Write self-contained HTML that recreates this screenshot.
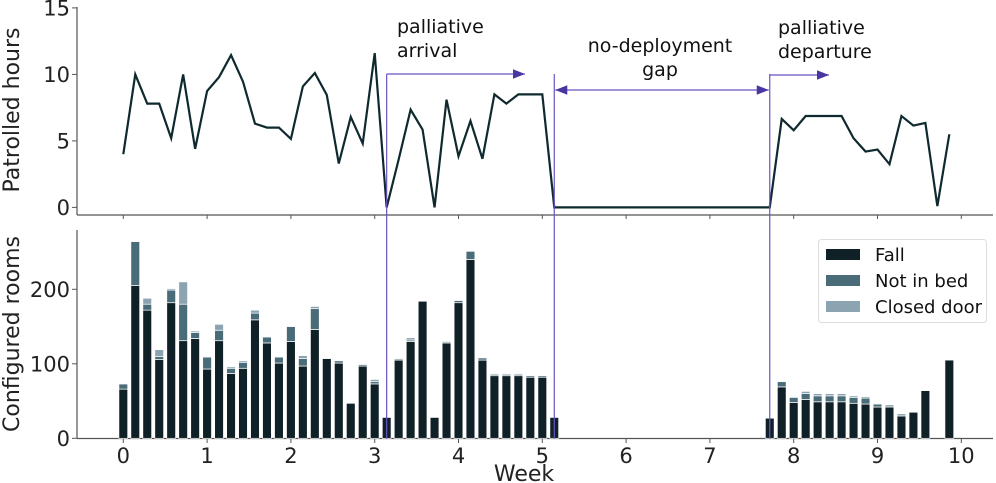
<!DOCTYPE html>
<html><head><meta charset="utf-8"><style>
html,body{margin:0;padding:0;background:#fff}
svg{display:block;font-family:"DejaVu Sans","Liberation Sans",sans-serif}
</style></head><body>
<svg id="chart" width="996" height="483" viewBox="0 0 996 483" xmlns="http://www.w3.org/2000/svg"></svg>
<script>
const hours=[4.0,10.0,7.8,7.8,5.2,10.0,4.4,8.75,9.8,11.45,9.45,6.3,6.0,6.0,5.15,9.1,10.1,8.45,3.3,6.8,4.8,11.6,0,3.6,7.35,5.85,0,8.1,3.85,6.5,3.65,8.5,7.8,8.5,8.5,8.5,0,0,0,0,0,0,0,0,0,0,0,0,0,0,0,0,0,0,0,6.65,5.8,6.87,6.87,6.87,6.87,5.2,4.2,4.35,3.25,6.87,6.15,6.35,0.1,5.5];
const fall=[66,205,172,106,182,131,134,93,131,87,94,159,128,101,130,97,146,107,101,47,97,73,28,105,130,184,28,128,182,240,105,84,84,84,82,82,28,0,0,0,0,0,0,0,0,0,0,0,0,0,0,0,0,0,27,69,48,52,49,49,49,47,46,42,42,30,35,64,0,105];
const notInBed=[7,59,8,4,17,49,8,16,14,7,8,9,8,8,20,10,28,0,3,0,2,3,0,0,2,0,0,0,3,11,3,2,2,2,2,2,0,0,0,0,0,0,0,0,0,0,0,0,0,0,0,0,0,0,0,7,7,8,8,8,8,8,8,4,0,0,0,0,0,0];
const closedDoor=[1,0,8,9,2,30,2,1,8,2,2,4,1,1,1,4,3,0,0,0,0,3,0,2,3,0,0,2,1,0,1,1,1,1,1,1,0,0,0,0,0,0,0,0,0,0,0,0,0,0,0,0,0,0,0,1,1,3,3,3,3,2,2,1,3,3,0,0,0,0];
const weekTicks=[0,1,2,3,4,5,6,7,8,9,10];
const hourTicks=[0,5,10,15];
const roomTicks=[0,100,200];
const events=[22,36,54];

const NS="http://www.w3.org/2000/svg";
const svg=document.getElementById('chart');
function el(t,a,p){const e=document.createElementNS(NS,t);for(const k in a)e.setAttribute(k,a[k]);(p||svg).appendChild(e);return e;}
const xW=w=>123.3+w*83.8;
const xD=d=>xW(d/7);
const yH=v=>207.4-v*13.3;
const yR=v=>438.3-v*0.745;
const AX="#555", PUR="#6a52c4", PURD="#4a36a0";

const defs=el('defs',{});
const m2=el('marker',{id:'ah2',viewBox:'0 0 10 10',refX:'10',refY:'5',markerWidth:'16',markerHeight:'12',orient:'auto-start-reverse',markerUnits:'userSpaceOnUse'},defs);
el('path',{d:'M0,1 L10,5 L0,9 Z',fill:PURD},m2);

let a;
a=el('line',{x1:77,y1:215,x2:993,y2:215,stroke:AX,'stroke-width':1.2});

a=el('line',{x1:77,y1:438.5,x2:993,y2:438.5,stroke:AX,'stroke-width':1.2});

a=el('line',{x1:77,y1:7,x2:77,y2:215,stroke:AX,'stroke-width':1.2});

a=el('line',{x1:77,y1:230,x2:77,y2:438.5,stroke:AX,'stroke-width':1.2});


weekTicks.forEach(w=>{
  const x=xW(w);
  el('line',{x1:x,y1:215,x2:x,y2:219,stroke:AX});
  el('line',{x1:x,y1:438.5,x2:x,y2:443,stroke:AX});
  const t=el('text',{x:x,y:463,'text-anchor':'middle','font-size':21,fill:'#222'});
  t.textContent=w;
  
  
});
hourTicks.forEach(v=>{
  const y=yH(v);
  el('line',{x1:72,y1:y,x2:77,y2:y,stroke:AX});
  const t=el('text',{x:70,y:y+7.5,'text-anchor':'end','font-size':21,fill:'#222'});
  t.textContent=v;
  
  
});
roomTicks.forEach(v=>{
  const y=yR(v);
  el('line',{x1:72,y1:y,x2:77,y2:y,stroke:AX});
  const t=el('text',{x:70,y:y+7.5,'text-anchor':'end','font-size':21,fill:'#222'});
  t.textContent=v;
  
  
});
let t;
t=el('text',{x:524,y:481,'text-anchor':'middle','font-size':22,fill:'#222'});t.textContent='Week';

t=el('text',{transform:'translate(19,110) rotate(-90)','text-anchor':'middle','font-size':22,fill:'#222'});t.textContent='Patrolled hours';

t=el('text',{transform:'translate(19,334) rotate(-90)','text-anchor':'middle','font-size':22,fill:'#222'});t.textContent='Configured rooms';


const bw=8.8;
fall.forEach((f,i)=>{
  const x=xD(i)-bw/2;
  const segs=[[f,'#0f2027','fall'],[notInBed[i],'#4a6b78','not-in-bed'],[closedDoor[i],'#8ca4b2','closed-door']];
  let base=0;
  segs.forEach(([v,c,n])=>{
    if(v>0){
      const r=el('rect',{x:x,y:yR(base+v),width:bw,height:yR(base)-yR(base+v),fill:c,stroke:'#fff','stroke-width':0.7});
      
      
    }
    base+=v;
  });
});

const pl=el('polyline',{points:hours.map((v,i)=>xD(i)+','+yH(v)).join(' '),fill:'none',stroke:'#0f2a2e','stroke-width':2.2,'stroke-linejoin':'miter'});


const ex=events.map(xD);
ex.forEach((x,i)=>{
  const l=el('line',{x1:x,y1:74,x2:x,y2:438.5,stroke:PUR,'stroke-width':1.2});
  
});
a=el('line',{x1:ex[0],y1:74,x2:525,y2:74,stroke:PUR,'stroke-width':1.2,'marker-end':'url(#ah2)'});

a=el('line',{x1:ex[1]+1,y1:90,x2:ex[2]-1,y2:90,stroke:PUR,'stroke-width':1.2,'marker-end':'url(#ah2)','marker-start':'url(#ah2)'});

a=el('line',{x1:ex[2],y1:75,x2:829,y2:75,stroke:PUR,'stroke-width':1.2,'marker-end':'url(#ah2)'});


function label(x,y,lines,anchor,name){
  const tt=el('text',{x:x,y:y,'text-anchor':anchor,'font-size':19,fill:'#111'});
  lines.forEach((s,i)=>{const ts=el('tspan',{x:x,dy:i?24:0},tt);ts.textContent=s;});
  
}
label(397,33,['palliative','arrival'],'start','arrival-annotation');
label(660,52,['no-deployment','gap'],'middle','gap-annotation');
label(778,34,['palliative','departure'],'start','departure-annotation');

const lg=el('g',{});

el('rect',{x:818.5,y:239.5,width:168,height:83,rx:3,fill:'#fff',stroke:'#ddd'},lg);
[['Fall','#0f2027',254],['Not in bed','#4a6b78',280],['Closed door','#8ca4b2',306]].forEach(([n,c,y])=>{
  const g=el('g',{},lg);
  
  el('rect',{x:826,y:y-5,width:34,height:11,fill:c},g);
  const tx=el('text',{x:875,y:y+7,'font-size':18,fill:'#111'},g);tx.textContent=n;
});
</script>
</body></html>
